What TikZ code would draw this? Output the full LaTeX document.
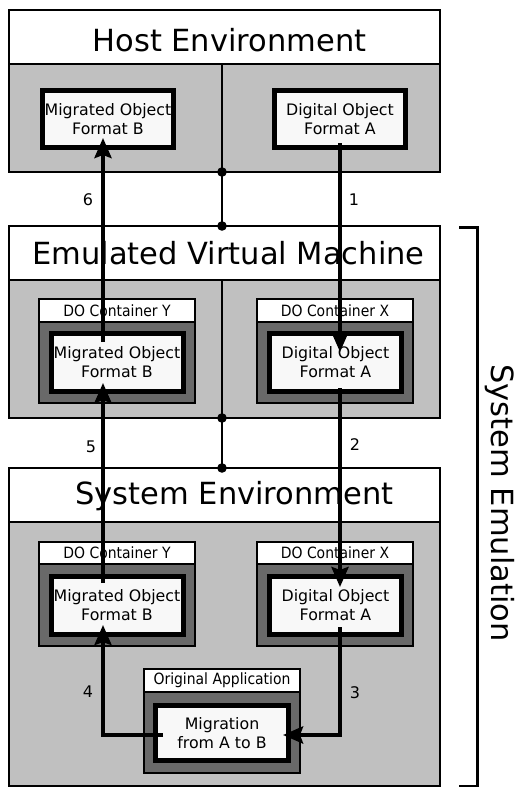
\documentclass[tikz,border=0pt]{standalone}
\usepackage{fontspec}
\setmainfont{DejaVu Sans}
\newfontfamily\condfont{DejaVu Sans Condensed}
\usetikzlibrary{arrows.meta,calc}
\definecolor{panelgray}{RGB}{192,192,192}
\definecolor{framegray}{RGB}{105,105,105}
\definecolor{paper}{RGB}{248,248,248}
\tikzset{
  panel/.style={draw=black, line width=2.3pt, fill=panelgray},
  band/.style={draw=black, line width=2.3pt, fill=white},
  holder/.style={draw=black, line width=1.2pt, fill=framegray},
  holderband/.style={draw=black, line width=1.2pt, fill=white},
  dobj/.style={draw=black, line width=5pt, fill=paper, inner sep=0pt,
    minimum width=132pt, minimum height=58pt, align=center,
    font=\fontsize{15.8pt}{19pt}\selectfont},
  title/.style={font=\fontsize{30.5pt}{36pt}\selectfont, inner sep=0pt},
  tag/.style={font=\condfont\fontsize{15.5pt}{18pt}\selectfont, inner sep=0pt},
  num/.style={font=\fontsize{16pt}{19pt}\selectfont, inner sep=0pt},
  link/.style={draw=black, line width=2pt},
  joint/.style={fill=black},
  flow/.style={draw=black, line width=4pt, -{Stealth[length=20pt,width=17pt,inset=3pt]}},
}
\begin{document}
\begin{tikzpicture}[x=1pt,y=-1pt]
\useasboundingbox (0,0) rectangle (519,787);

% ---------- Host Environment ----------
\draw[panel] (9,10) rectangle (440,172);
\draw[band] (9,10) rectangle (440,64);
\node[title] (hosttitle) at (229.5,40) {Host Environment};
\node[dobj, minimum width=131pt, minimum height=57pt] (hB) at (108,119) {Migrated Object\\Format B};
\node[dobj, minimum width=131pt, minimum height=57pt] (hA) at (340,119) {Digital Object\\Format A};

% ---------- Emulated Virtual Machine ----------
\draw[panel] (9,226) rectangle (440,418);
\draw[band] (9,226) rectangle (440,280);
\node[title] (evmtitle) at (228.5,253) {Emulated Virtual Machine};
\draw[holder] (39,299) rectangle (195,403);
\draw[holderband] (39,299) rectangle (195,322);
\node[tag] (evmYtag) at (117,310.5) {DO Container Y};
\draw[holder] (257,299) rectangle (413,403);
\draw[holderband] (257,299) rectangle (413,322);
\node[tag] (evmXtag) at (335,310.5) {DO Container X};
\node[dobj] (eB) at (117,362.5) {Migrated Object\\Format B};
\node[dobj] (eA) at (335.5,362.5) {Digital Object\\Format A};

% ---------- System Environment ----------
\draw[panel] (9,468) rectangle (440,786);
\draw[band] (9,468) rectangle (440,522);
\node[title] (systitle) at (234.5,496) {System Environment};
\draw[holder] (39,542) rectangle (195,646);
\draw[holderband] (39,542) rectangle (195,564);
\node[tag] (sysYtag) at (117,553) {DO Container Y};
\draw[holder] (257,542) rectangle (413,646);
\draw[holderband] (257,542) rectangle (413,564);
\node[tag] (sysXtag) at (335,553) {DO Container X};
\node[dobj] (sB) at (117,605) {Migrated Object\\Format B};
\node[dobj] (sA) at (335.5,605) {Digital Object\\Format A};
\draw[holder] (144,669) rectangle (300,773);
\draw[holderband] (144,669) rectangle (300,692);
\node[tag] (apptag) at (222,680.5) {Original Application};
\node[dobj, minimum width=133pt, minimum height=55pt] (mig) at (222,733) {Migration\\from A to B};

% ---------- layer links ----------
\coordinate (hostsplit) at (222,64);
\coordinate (hostjoin) at (222,172);
\coordinate (evmjoinup) at (222,226);
\coordinate (evmsplit) at (222,280);
\coordinate (evmjoin) at (222,418);
\coordinate (sysjoin) at (222,468);
\draw[link] (hostsplit) -- (evmjoinup);
\draw[link] (evmsplit) -- (sysjoin);
\foreach \p in {hostjoin,evmjoinup,evmjoin,sysjoin}
  \fill[joint] (\p) circle (4.8pt);

% ---------- object flow ----------
\draw[flow] ($(hA.center)+(0,24)$) -- ($(eA.center)+(4.5,-10.5)$);
\draw[flow] ($(eA.center)+(4.5,25.5)$) -- ($(sA.center)+(4.5,-18)$);
\draw[flow] ($(sA.center)+(4.5,22)$) |- ($(mig.center)+(61,2)$);
\draw[flow] ($(mig.center)+(-59,2)$) -| ($(sB.center)+(-14,20)$);
\draw[flow] ($(sB.center)+(-14,-22)$) -- ($(eB.center)+(-14,20.5)$);
\draw[flow] ($(eB.center)+(-14,-20.5)$) -- ($(hB.center)+(-5,19)$);

\node[num] (n1) at (354,200) {1};
\node[num] (n2) at (355,445) {2};
\node[num] (n3) at (355,693) {3};
\node[num] (n4) at (88,692) {4};
\node[num] (n5) at (91,447) {5};
\node[num] (n6) at (88,200) {6};

% ---------- emulation bracket ----------
\coordinate (brtop) at (459,227);
\coordinate (brbot) at (459,786);
\draw[line width=3pt] (brtop) -- ++(18,0) |- (brbot);
\node[title, rotate=-90] (emulabel) at (500,503) {System Emulation};
\end{tikzpicture}
\end{document}
